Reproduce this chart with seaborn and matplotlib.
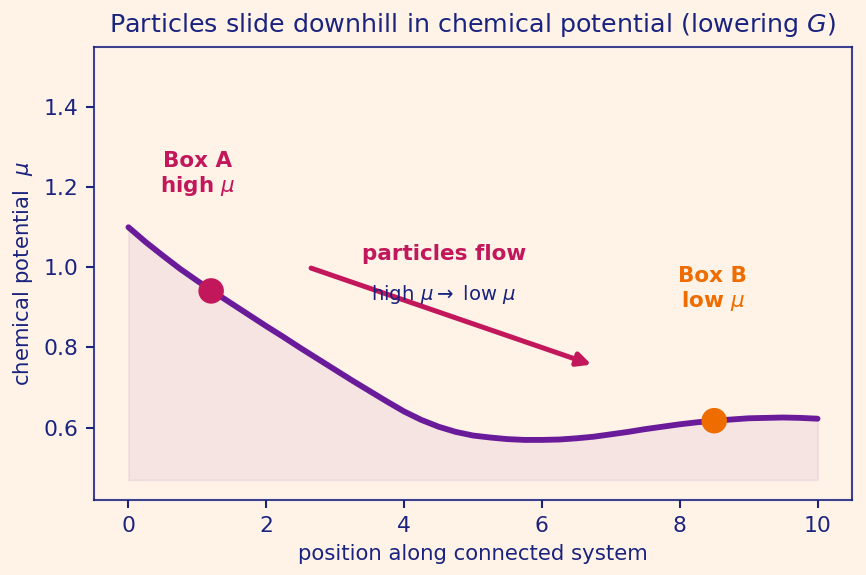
import numpy as np
import pandas as pd
import matplotlib
matplotlib.use("Agg")
import matplotlib.pyplot as plt
import seaborn as sns

# ---- data ----
position = [0.00, 0.25, 0.50, 0.75, 1.00, 1.25, 1.50, 1.75, 2.00, 2.25, 2.50,
            2.75, 3.00, 3.25, 3.50, 3.75, 4.00, 4.25, 4.50, 4.75, 5.00,
            5.25, 5.50, 5.75, 6.00, 6.25, 6.50, 6.75, 7.00, 7.25, 7.50,
            7.75, 8.00, 8.25, 8.50, 8.75, 9.00, 9.25, 9.50, 9.75, 10.00]
mu = [1.100, 1.063, 1.029, 0.996, 0.966, 0.937, 0.909, 0.881, 0.853, 0.826, 0.798,
      0.771, 0.744, 0.717, 0.691, 0.665, 0.640, 0.619, 0.602, 0.589, 0.580,
      0.575, 0.571, 0.569, 0.569, 0.570, 0.573, 0.577, 0.583, 0.589, 0.596,
      0.602, 0.608, 0.613, 0.617, 0.620, 0.623, 0.624, 0.625, 0.624, 0.622]
box_x = [1.2, 8.5]
box_mu = [0.941, 0.617]
box_names = ["Box A", "Box B"]
box_labels = ["Box A\nhigh $\\mu$", "Box B\nlow $\\mu$"]
x_ticks = [0, 2, 4, 6, 8, 10]
y_ticks = [0.6, 0.8, 1.0, 1.2, 1.4]

BG = "#FFF3E8"
NAVY = "#1A237E"
PURPLE = "#6A1B9A"
CRIMSON = "#C2185B"
ORANGE = "#EF6C00"

sns.set_theme(style="white")
plt.rcParams["font.family"] = ["DejaVu Sans"]

fig = plt.figure(figsize=(866 / 150, 575 / 150), dpi=150, facecolor=BG)
ax = fig.add_axes([94 / 866, 1 - 500 / 575, (852 - 94) / 866, (500 - 47) / 575])
ax.set_facecolor(BG)

df = pd.DataFrame({"position": position, "mu": mu})
base = min(mu) - 0.1
ax.fill_between(df["position"], base, df["mu"], color=PURPLE, alpha=0.065, linewidth=1,
                edgecolor=(0.42, 0.11, 0.6, 0.05), zorder=1)
sns.lineplot(data=df, x="position", y="mu", ax=ax, color=PURPLE, linewidth=2.8, zorder=3)

bdf = pd.DataFrame({"x": box_x, "mu": box_mu, "box": box_names})
sns.scatterplot(data=bdf, x="x", y="mu", hue="box", palette=[CRIMSON, ORANGE],
                s=150, edgecolor="none", ax=ax, zorder=4, legend=False)

ax.annotate("", xy=(6.72, 0.757), xytext=(2.65, 0.998),
            arrowprops=dict(arrowstyle="-|>,head_length=0.45,head_width=0.22",
                            color=CRIMSON, lw=2.4, shrinkA=0, shrinkB=0), zorder=2)
ax.text(4.58, 1.034, "particles flow", color=CRIMSON, fontsize=10.3, fontweight="bold",
        ha="center", va="center", zorder=5)
ax.text(4.58, 0.932, "high $\\mu \\rightarrow$ low $\\mu$", color=NAVY, fontsize=9.4,
        ha="center", va="center", zorder=5)
ax.text(1.0, 1.232, box_labels[0], color=CRIMSON, fontsize=10.3, fontweight="bold",
        ha="center", va="center", linespacing=1.2)
ax.text(8.48, 0.945, box_labels[1], color=ORANGE, fontsize=10.3, fontweight="bold",
        ha="center", va="center", linespacing=1.2)

ax.set_xlim(-0.5, 10.5)
ax.set_ylim(min(mu) - 0.15, max(mu) + 0.45)
ax.set_xticks(x_ticks)
ax.set_yticks(y_ticks)
ax.set_xticklabels([str(t) for t in x_ticks])
ax.set_yticklabels([f"{t:.1f}" for t in y_ticks])
ax.tick_params(colors=NAVY, labelsize=10.5, length=4, width=1, direction="out",
               left=True, bottom=True)
for sp in ax.spines.values():
    sp.set_color(NAVY)
    sp.set_linewidth(1.0)
    sp.set_alpha(0.85)
ax.set_xlabel("position along connected system", color=NAVY, fontsize=10.2)
ax.set_ylabel("chemical potential  $\\mu$", color=NAVY, fontsize=10.2)
ax.set_title("Particles slide downhill in chemical potential (lowering $G$)",
             color=NAVY, fontsize=12.2, pad=7)

fig.savefig("out.png", dpi=150, facecolor=BG)
